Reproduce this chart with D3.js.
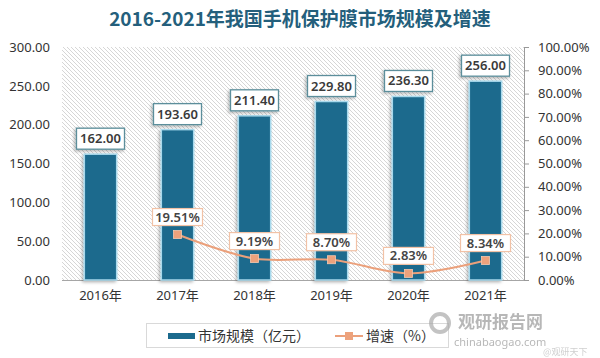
<!DOCTYPE html>
<html><head><meta charset="utf-8">
<script src="https://cdn.jsdelivr.net/npm/d3@7"></script>
<style>body{margin:0;background:#fff}svg{display:block}</style>
</head><body>
<script>
const years = ["2016年","2017年","2018年","2019年","2020年","2021年"];
const marketSize = [162.00,193.60,211.40,229.80,236.30,256.00];
const growth = [null,19.51,9.19,8.70,2.83,8.34];
const leftTicks = [0,50,100,150,200,250,300];
const rightTicks = [0,10,20,30,40,50,60,70,80,90,100];
const title = "2016-2021年我国手机保护膜市场规模及增速";
const legendLabels = ["市场规模（亿元）","增速（%）"];

const W=600,H=358;
const svg=d3.select("body").append("svg").attr("width",W).attr("height",H);
const defs=svg.append("defs");
const pat=defs.append("pattern").attr("id","hatch").attr("patternUnits","userSpaceOnUse")
  .attr("width",4).attr("height",4);
pat.append("rect").attr("width",4).attr("height",4).attr("fill","#ffffff");
pat.append("path").attr("d","M-1,-1 L5,5 M-1,3 L1,5 M3,-1 L5,1").attr("stroke","#d6d6d6").attr("stroke-width",1);
const sh=defs.append("filter").attr("id","shadow").attr("x","-30%").attr("y","-10%").attr("width","160%").attr("height","130%");
sh.append("feDropShadow").attr("dx",-1.5).attr("dy",1.5).attr("stdDeviation",1.5).attr("flood-color","#000").attr("flood-opacity",0.3);

const font="'Noto Sans','Noto Sans CJK SC',sans-serif";
const x=d3.scaleBand().domain(years).range([62,524]).paddingInner(0.58).paddingOuter(0.29);
const yL=d3.scaleLinear().domain([0,300]).range([280,47]);
const yR=d3.scaleLinear().domain([0,100]).range([280,47]);

// title
svg.append("text").attr("x",300).attr("y",26).attr("text-anchor","middle")
  .attr("font-family","'Noto Sans CJK SC',sans-serif").attr("font-weight","bold").attr("font-size",19)
  .attr("fill","#245f7c").text(title);

// plot bg
svg.append("rect").attr("x",62).attr("y",47).attr("width",462).attr("height",233).attr("fill","url(#hatch)");

// left axis
const gl=svg.append("g").attr("transform","translate(58,0)")
  .call(d3.axisLeft(yL).tickValues(leftTicks).tickFormat(d3.format(".2f")).tickSize(0).tickPadding(8));
gl.select(".domain").remove();
gl.selectAll("text").attr("font-family",font).attr("font-size",13).attr("fill","#333");

// right axis
const gr=svg.append("g").attr("transform","translate(524,0)")
  .call(d3.axisRight(yR).tickValues(rightTicks).tickFormat(d=>d3.format(".2f")(d)+"%").tickSize(5).tickPadding(9).tickSizeOuter(0));
gr.select(".domain").attr("stroke","#999");
gr.selectAll(".tick line").attr("stroke","#999");
gr.selectAll("text").attr("font-family",font).attr("font-size",13).attr("fill","#333");

// baseline
svg.append("line").attr("x1",62).attr("x2",524).attr("y1",280.5).attr("y2",280.5).attr("stroke","#a6a6a6");

// x axis labels
const gx=svg.append("g").attr("transform","translate(0,280)")
  .call(d3.axisBottom(x).tickSize(0).tickPadding(11));
gx.select(".domain").remove();
gx.selectAll("text").attr("font-family",font).attr("font-size",13).attr("fill","#333");

// bars
svg.append("g").selectAll("rect").data(marketSize).join("rect")
  .attr("x",(d,i)=>x(years[i])).attr("width",x.bandwidth())
  .attr("y",d=>yL(d)).attr("height",d=>yL(0)-yL(d))
  .attr("fill","#1b6a8d").attr("stroke","#a8d9ec").attr("stroke-width",1.5)
  .attr("filter","url(#shadow)");

// bar labels
const bl=svg.append("g").selectAll("g").data(marketSize).join("g")
  .attr("transform",(d,i)=>`translate(${x(years[i])+x.bandwidth()/2},${yL(d)-4})`);
bl.append("rect").attr("x",-24).attr("y",-22).attr("width",48).attr("height",21)
  .attr("fill","#fff").attr("stroke","#5b8e9b").attr("stroke-width",1.3).attr("filter","url(#shadow)");
bl.append("text").attr("y",-7).attr("text-anchor","middle").attr("font-family",font)
  .attr("font-size",13).attr("font-weight","600").attr("fill","#3a3a3a").text(d=>d3.format(".2f")(d));

// line
const pts=growth.map((v,i)=>({v,i})).filter(d=>d.v!=null);
const cx=d=>x(years[d.i])+x.bandwidth()/2;
svg.append("path").datum(pts).attr("fill","none").attr("stroke","#eba07b").attr("stroke-width",2)
  .attr("d",d3.line().x(cx).y(d=>yR(d.v)).curve(d3.curveCatmullRom.alpha(0.5)));
svg.append("g").selectAll("rect").data(pts).join("rect")
  .attr("x",d=>cx(d)-4).attr("y",d=>yR(d.v)-4).attr("width",8).attr("height",8)
  .attr("fill","#eda27c").attr("stroke","#f6c9b0").attr("stroke-width",0.8);

// growth labels
const gLab=svg.append("g").selectAll("g").data(pts).join("g")
  .attr("transform",d=>`translate(${cx(d)},${yR(d.v)-9})`);
gLab.append("rect").attr("x",-25).attr("y",-17).attr("width",50).attr("height",17)
  .attr("fill","#fff").attr("stroke","#f2c2a6").attr("stroke-width",1.2);
gLab.append("text").attr("y",-4).attr("text-anchor","middle").attr("font-family",font)
  .attr("font-size",13).attr("font-weight","600").attr("fill","#444").text(d=>d3.format(".2f")(d.v)+"%");

// legend
const lg=svg.append("g");
lg.append("rect").attr("x",146.5).attr("y",323.5).attr("width",302).attr("height",24)
  .attr("fill","#fff").attr("stroke","#d9d9d9");
lg.append("rect").attr("x",168).attr("y",333).attr("width",27).attr("height",6).attr("fill","#1b6a8d");
lg.append("text").attr("x",198).attr("y",341).attr("font-family","'Noto Sans CJK SC',sans-serif")
  .attr("font-size",14).attr("fill","#333").text(legendLabels[0]);
lg.append("line").attr("x1",335).attr("x2",363).attr("y1",336).attr("y2",336).attr("stroke","#eba07b").attr("stroke-width",2);
lg.append("rect").attr("x",345).attr("y",332).attr("width",8).attr("height",8).attr("fill","#eda27c");
lg.append("text").attr("x",366).attr("y",341).attr("font-family","'Noto Sans CJK SC',sans-serif")
  .attr("font-size",14).attr("fill","#333").text(legendLabels[1]);

// watermark
const wm=svg.append("g").attr("fill","#9a9a9a").attr("opacity",0.7);
wm.append("circle").attr("cx",440).attr("cy",323).attr("r",9).attr("fill","none").attr("stroke","#aaa").attr("stroke-width",4);
wm.append("text").attr("x",458).attr("y",328).attr("font-family","'Noto Sans CJK SC',sans-serif")
  .attr("font-weight","bold").attr("font-size",17).text("观研报告网");
wm.append("text").attr("x",454).attr("y",346).attr("font-family",font).attr("font-size",11).text("chinabaogao.com");
wm.append("text").attr("x",543).attr("y",355).attr("font-family","'Noto Sans CJK SC',sans-serif")
  .attr("font-size",9).attr("fill","#bbb").text("@观研天下");
</script>
</body></html>
